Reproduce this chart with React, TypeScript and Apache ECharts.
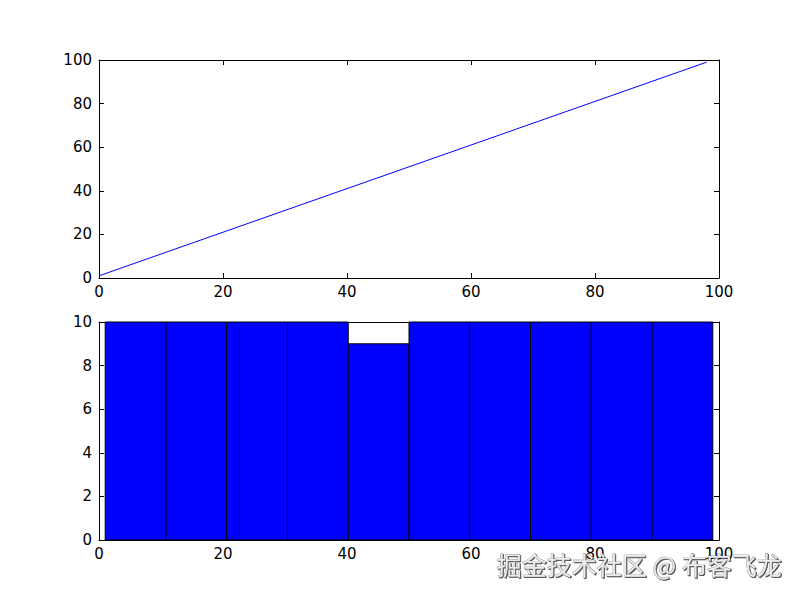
import React, { useEffect, useRef } from "react";
import * as echarts from "echarts";

// top plot: straight line, endpoints of the series
const lineX = [0, 98];
const lineY = [1, 99];

// bottom plot: histogram bins and their counts
const binEdges = [1, 10.8, 20.6, 30.4, 40.2, 50, 59.8, 69.6, 79.4, 89.2, 99];
const binCounts = [10, 10, 10, 10, 9, 10, 10, 10, 10, 10];

const topTicks = [0, 20, 40, 60, 80, 100];
const bottomYTicks = [0, 2, 4, 6, 8, 10];

const watermark = "掘金技术社区 @ 布客飞龙";

const FONT = "DejaVu Sans";

const App: React.FC = () => {
  const chartRef = useRef<HTMLDivElement | null>(null);

  useEffect(() => {
    document.body.style.margin = "0";
    if (!chartRef.current) return;
    const chart = echarts.init(chartRef.current, undefined, { renderer: "svg" });

    const label = { color: "#000", fontSize: 15, fontFamily: FONT };
    const line = { show: true, onZero: false, lineStyle: { color: "#000", width: 1 } };
    const tick = { show: true, inside: true, length: 5, lineStyle: { color: "#000", width: 1 } };

    // one visible axis plus a mirrored one carrying only ticks
    const xPair = (gridIndex: number, max: number) => [
      {
        type: "value", gridIndex, min: 0, max, interval: 20, position: "bottom",
        axisLine: line, axisTick: tick, splitLine: { show: false },
        axisLabel: { ...label, margin: 6 },
      },
      {
        type: "value", gridIndex, min: 0, max, interval: 20, position: "top",
        axisLine: line, axisTick: tick, splitLine: { show: false },
        axisLabel: { show: false },
      },
    ];
    const yPair = (gridIndex: number, max: number, interval: number) => [
      {
        type: "value", gridIndex, min: 0, max, interval, position: "left",
        axisLine: line, axisTick: tick, splitLine: { show: false },
        axisLabel: { ...label, margin: 7 },
      },
      {
        type: "value", gridIndex, min: 0, max, interval, position: "right",
        axisLine: line, axisTick: tick, splitLine: { show: false },
        axisLabel: { show: false },
      },
    ];

    const option: any = {
      animation: false,
      backgroundColor: "#fff",
      grid: [
        { left: 99, top: 60, width: 620, height: 218 },
        { left: 99, top: 322, width: 620, height: 218 },
      ],
      xAxis: [...xPair(0, topTicks[topTicks.length - 1]), ...xPair(1, 100)],
      yAxis: [...yPair(0, 100, 20), ...yPair(1, bottomYTicks[bottomYTicks.length - 1], 2)],
      series: [
        {
          type: "line",
          xAxisIndex: 0,
          yAxisIndex: 0,
          symbol: "none",
          lineStyle: { color: "#0000ff", width: 1 },
          data: lineX.map((x, i) => [x, lineY[i]]),
        },
        {
          type: "custom",
          xAxisIndex: 2,
          yAxisIndex: 2,
          data: binCounts.map((c, i) => [binEdges[i], binEdges[i + 1], c]),
          renderItem: (params: any, api: any) => {
            const p0 = api.coord([api.value(0), 0]);
            const p1 = api.coord([api.value(1), api.value(2)]);
            return {
              type: "rect",
              shape: { x: p0[0], y: p1[1], width: p1[0] - p0[0], height: p0[1] - p1[1] },
              style: { fill: "#0000ff", stroke: "#000", lineWidth: 1 },
            };
          },
        },
      ],
      graphic: [
        {
          type: "text",
          right: 18,
          top: 551,
          z: 100,
          style: {
            text: watermark,
            fill: "#ececec",
            font: '25px "Noto Sans CJK SC"',
            textShadowColor: "rgba(0,0,0,0.7)",
            textShadowBlur: 1,
            textShadowOffsetX: 1,
            textShadowOffsetY: 1,
            stroke: "#666",
            lineWidth: 0.6,
          },
        },
      ],
    };

    chart.setOption(option);
    return () => {
      chart.dispose();
    };
  }, []);

  return <div ref={chartRef} style={{ width: 800, height: 600 }} />;
};

export default App;
